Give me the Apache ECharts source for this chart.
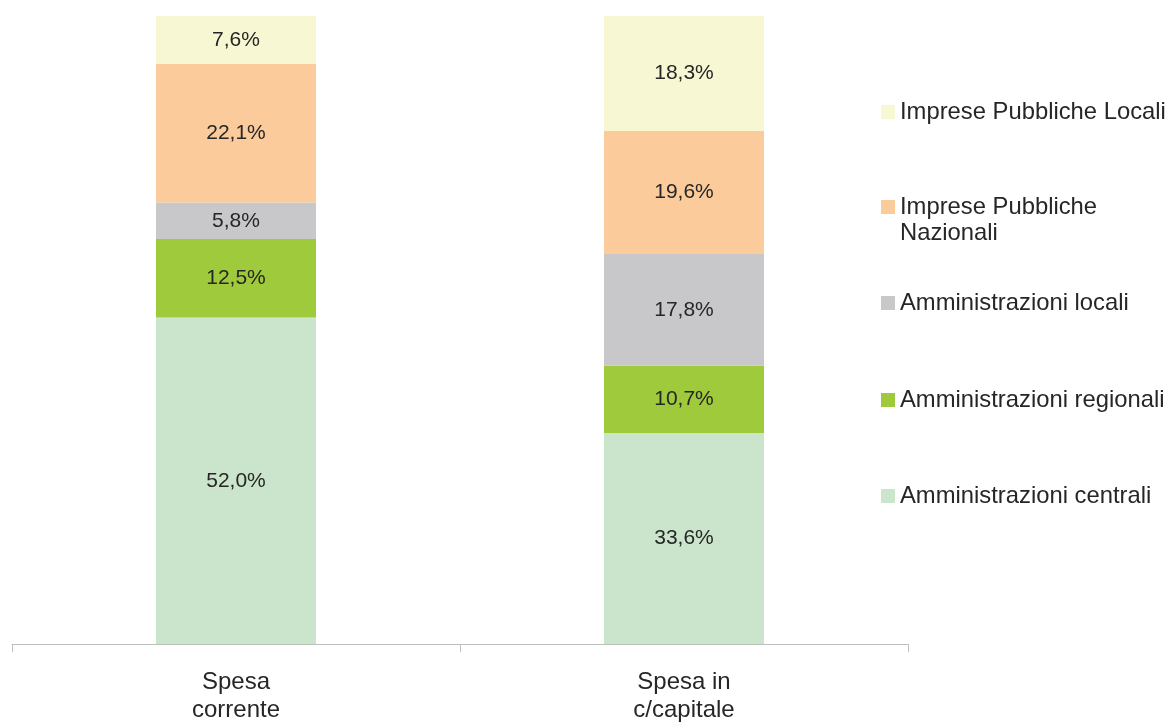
<!DOCTYPE html>
<html>
<head>
<meta charset="utf-8">
<script src="https://cdn.jsdelivr.net/npm/echarts@6/dist/echarts.min.js"></script>
<style>
  html, body { margin: 0; padding: 0; background: #fff; }
  #main { width: 1171px; height: 724px; }
</style>
</head>
<body>
<div id="main"></div>
<script>
// dati (percentuali)
var categories = ['Spesa\ncorrente', 'Spesa in\nc/capitale']
var centrali = [52.0, 33.6]
var regionali = [12.5, 10.7]
var locali = [5.8, 17.8]
var impreseNazionali = [22.1, 19.6]
var impreseLocali = [7.6, 18.3]

var textColor = '#262626'
var font = 'Liberation Sans, Arial, sans-serif'

function pct (p) {
  return p.value.toFixed(1).replace('.', ',') + '%'
}

function serie (name, data, color) {
  return {
    name: name,
    type: 'bar',
    stack: 'tot',
    barWidth: 160,
    data: data,
    itemStyle: { color: color },
    label: {
      show: true,
      position: 'inside',
      formatter: pct,
      color: textColor,
      fontSize: 21,
      fontFamily: font
    }
  }
}

// una legenda per voce, cosi' la voce su due righe resta allineata
function legenda (name, top, label) {
  return {
    data: [name],
    orient: 'vertical',
    left: 881,
    top: top,
    padding: 0,
    itemWidth: 14,
    itemHeight: 14,
    icon: 'rect',
    selectedMode: false,
    formatter: function () { return label },
    textStyle: {
      color: textColor,
      fontSize: 23.8,
      fontFamily: font,
      lineHeight: 26
    }
  }
}

var chart = echarts.init(document.getElementById('main'))
var option = {
  animation: false,
  grid: { left: 12, right: 263, top: 16, bottom: 79 },
  legend: [
    legenda('Imprese Pubbliche Locali', 112 - 13, 'Imprese Pubbliche Locali'),
    // riga vuota in testa: la prima riga resta allineata al quadratino
    legenda('Imprese Pubbliche Nazionali', 207 - 39, ' \nImprese Pubbliche\nNazionali'),
    legenda('Amministrazioni locali', 303 - 13, 'Amministrazioni locali'),
    legenda('Amministrazioni regionali', 400 - 13, 'Amministrazioni regionali'),
    legenda('Amministrazioni centrali', 496 - 13, 'Amministrazioni centrali')
  ],
  xAxis: {
    type: 'category',
    data: categories,
    axisLine: { lineStyle: { color: '#BFBFBF', width: 1 } },
    axisTick: { show: true, length: 8, lineStyle: { color: '#BFBFBF' } },
    axisLabel: {
      color: textColor,
      fontSize: 24,
      fontFamily: font,
      lineHeight: 28,
      margin: 24
    }
  },
  yAxis: {
    type: 'value',
    min: 0,
    max: 100,
    show: false
  },
  series: [
    serie('Amministrazioni centrali', centrali, '#CBE5CC'),
    serie('Amministrazioni regionali', regionali, '#9ECA3B'),
    serie('Amministrazioni locali', locali, '#C8C8CA'),
    serie('Imprese Pubbliche Nazionali', impreseNazionali, '#FBCB9B'),
    serie('Imprese Pubbliche Locali', impreseLocali, '#F7F8D3')
  ]
}
chart.setOption(option)
</script>
</body>
</html>
